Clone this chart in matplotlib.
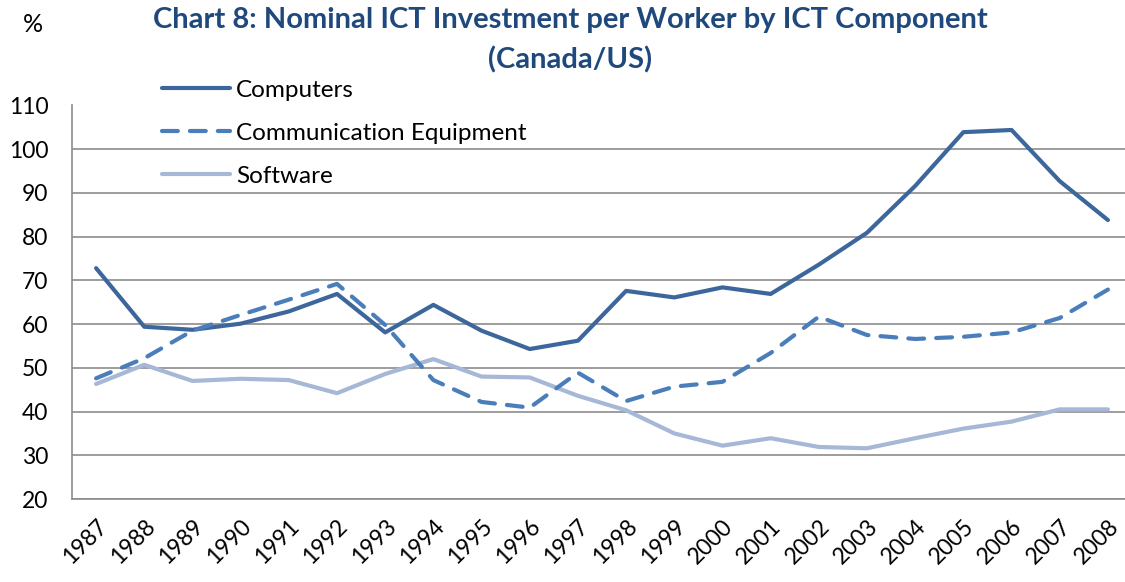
import matplotlib.pyplot as plt

# --- Data ---
years = [str(y) for y in range(1987, 2009)]
computers = [72.8, 59.4, 58.7, 60.1, 62.9, 66.9, 58.1, 64.4, 58.5, 54.3, 56.2,
             67.6, 66.1, 68.4, 66.9, 73.6, 80.9, 91.6, 103.9, 104.4, 92.7, 83.8]
communication = [47.6, 52.2, 58.5, 62.1, 65.6, 69.2, 59.8, 47.2, 42.2, 40.9, 48.9,
                 42.4, 45.7, 46.8, 53.4, 61.7, 57.5, 56.6, 57.1, 58.1, 61.4, 67.9]
software = [46.3, 50.7, 47.0, 47.5, 47.2, 44.2, 48.6, 52.0, 48.0, 47.8, 43.6,
            40.3, 35.0, 32.2, 33.9, 31.9, 31.6, 33.9, 36.1, 37.7, 40.5, 40.5]
yticks = list(range(20, 111, 10))

plt.rcParams['font.family'] = ['Lato', 'DejaVu Sans']

W, H = 1125, 582
fig = plt.figure(figsize=(W / 100, H / 100), dpi=100)
ax = fig.add_axes([72 / W, (H - 499) / H, 1060 / W, (499 - 105.5) / H])

x = list(range(len(years)))
l1, = ax.plot(x, computers, color='#3D679C', lw=3, solid_capstyle='round',
              label='Computers', zorder=3)
l2, = ax.plot(x, communication, color='#4A7EBB', lw=3, dash_capstyle='round',
              linestyle=(0, (3.8, 2.9)), label='Communication Equipment', zorder=3)
l3, = ax.plot(x, software, color='#A6B8D6', lw=3, solid_capstyle='round',
              label='Software', zorder=2)

ax.set_xlim(-0.5, len(years) - 0.5)
ax.set_ylim(20, 110)
ax.set_yticks(yticks)
ax.set_xticks(x)
ax.set_xticklabels(years, rotation=45, ha='right', rotation_mode='anchor')
ax.tick_params(axis='both', length=0, labelsize=16.5)
ax.tick_params(axis='y', pad=17)
ax.tick_params(axis='x', pad=12)
ax.grid(axis='y', color='#8C8C8C', lw=1.2)
ax.set_axisbelow(True)
for s in ['top', 'right']:
    ax.spines[s].set_visible(False)
for s in ['left', 'bottom']:
    ax.spines[s].set_color('#8C8C8C')
    ax.spines[s].set_linewidth(1.2)

fig.legend(handles=[l1, l2, l3], loc='upper left',
           bbox_to_anchor=(152 / W, 1 - 70 / H), frameon=False,
           fontsize=17.5, handlelength=2.8, handletextpad=0.25,
           labelspacing=0.9, borderaxespad=0)

fig.text(570 / W, 1 - 20 / H, 'Chart 8: Nominal ICT Investment per Worker by ICT Component',
         ha='center', va='center', fontsize=21, fontweight='bold', color='#1F497D')
fig.text(570 / W, 1 - 60 / H, '(Canada/US)', ha='center', va='center',
         fontsize=21, fontweight='bold', color='#1F497D')
fig.text(33 / W, 1 - 25 / H, '%', ha='center', va='center', fontsize=18)

fig.savefig('out.png', dpi=100)
